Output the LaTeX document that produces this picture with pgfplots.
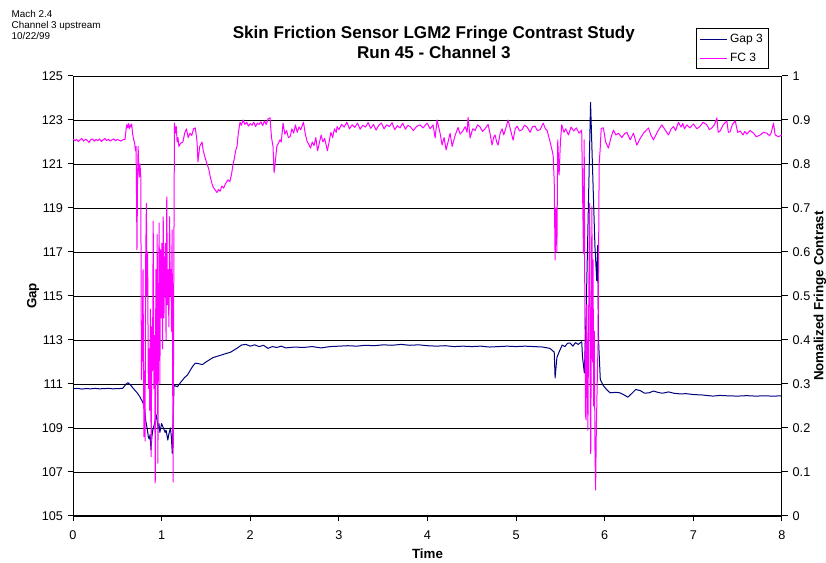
\documentclass[border=0pt]{standalone}
\usepackage{fontspec}
\setmainfont{Liberation Sans}
\usepackage{pgfplots}
\pgfplotsset{compat=1.18}
\usepackage{pgfplotstable}

\definecolor{gapnavy}{RGB}{0,0,128}
\definecolor{fcmagenta}{RGB}{255,0,255}

% Gap 3 (left axis)
\pgfplotstableread{
t gap
0.00 110.78
0.05 110.80
0.10 110.77
0.15 110.79
0.20 110.78
0.25 110.80
0.30 110.78
0.35 110.79
0.40 110.80
0.45 110.78
0.50 110.79
0.56 110.80
0.60 111.00
0.62 111.06
0.65 110.95
0.68 110.80
0.72 110.62
0.75 110.45
0.79 110.15
0.81 109.80
0.82 109.35
0.84 108.90
0.85 108.60
0.86 108.50
0.87 108.70
0.88 108.00
0.89 108.60
0.90 108.90
0.92 109.20
0.94 109.60
0.95 109.30
0.96 109.00
0.97 109.20
0.98 108.80
1.00 109.20
1.02 109.00
1.04 108.80
1.05 108.90
1.07 108.45
1.08 108.70
1.10 109.00
1.11 108.60
1.12 107.85
1.14 110.95
1.16 110.90
1.18 110.88
1.20 111.00
1.23 111.15
1.26 111.30
1.29 111.40
1.32 111.60
1.35 111.80
1.38 111.95
1.42 111.92
1.46 111.88
1.50 112.00
1.54 112.10
1.58 112.20
1.62 112.25
1.66 112.30
1.70 112.35
1.74 112.40
1.78 112.45
1.82 112.55
1.86 112.65
1.90 112.77
1.95 112.80
2.00 112.72
2.05 112.78
2.10 112.70
2.15 112.76
2.20 112.62
2.25 112.70
2.30 112.66
2.35 112.72
2.40 112.64
2.50 112.68
2.60 112.66
2.70 112.70
2.80 112.64
2.90 112.70
3.00 112.72
3.10 112.74
3.20 112.72
3.30 112.76
3.40 112.74
3.50 112.78
3.60 112.76
3.70 112.80
3.80 112.76
3.90 112.78
4.00 112.74
4.10 112.72
4.20 112.74
4.30 112.70
4.40 112.72
4.50 112.70
4.60 112.72
4.70 112.68
4.80 112.70
4.90 112.72
5.00 112.70
5.10 112.72
5.20 112.70
5.30 112.68
5.38 112.62
5.43 112.45
5.44 111.27
5.46 112.20
5.49 112.50
5.52 112.77
5.55 112.70
5.58 112.85
5.61 112.86
5.64 112.72
5.67 112.88
5.70 112.80
5.74 112.92
5.75 112.20
5.77 111.50
5.79 114.20
5.84 123.80
5.87 119.80
5.89 117.20
5.91 115.70
5.92 117.30
5.93 113.00
5.95 111.20
5.98 110.95
6.02 110.75
6.06 110.60
6.12 110.62
6.17 110.60
6.22 110.50
6.26 110.40
6.30 110.55
6.35 110.75
6.40 110.70
6.45 110.58
6.50 110.60
6.55 110.68
6.60 110.62
6.65 110.58
6.72 110.64
6.78 110.58
6.85 110.55
6.92 110.56
7.00 110.52
7.10 110.50
7.22 110.45
7.30 110.48
7.40 110.46
7.50 110.45
7.60 110.47
7.70 110.45
7.80 110.46
7.90 110.45
8.00 110.46
}\gapdata

% FC 3 (right axis)
\pgfplotstableread{
t fc
0.00 0.857
0.02 0.853
0.04 0.856
0.06 0.851
0.08 0.855
0.10 0.858
0.12 0.852
0.14 0.856
0.16 0.854
0.18 0.849
0.20 0.855
0.22 0.857
0.24 0.852
0.26 0.856
0.28 0.853
0.30 0.857
0.32 0.851
0.34 0.855
0.36 0.858
0.38 0.853
0.40 0.856
0.42 0.852
0.44 0.855
0.46 0.857
0.48 0.853
0.50 0.856
0.52 0.854
0.54 0.852
0.56 0.855
0.587 0.856
0.600 0.880
0.606 0.889
0.615 0.882
0.625 0.892
0.635 0.880
0.645 0.889
0.655 0.884
0.662 0.891
0.672 0.870
0.685 0.855
0.695 0.848
0.705 0.830
0.712 0.840
0.722 0.605
0.728 0.760
0.735 0.840
0.742 0.790
0.750 0.770
0.756 0.800
0.765 0.770
0.772 0.310
0.780 0.360
0.790 0.560
0.800 0.180
0.808 0.330
0.813 0.170
0.820 0.580
0.828 0.710
0.835 0.500
0.842 0.600
0.850 0.290
0.858 0.380
0.866 0.240
0.874 0.470
0.882 0.135
0.890 0.430
0.897 0.330
0.905 0.670
0.912 0.290
0.920 0.410
0.928 0.075
0.935 0.560
0.942 0.300
0.950 0.640
0.958 0.120
0.965 0.450
0.972 0.666
0.980 0.300
0.988 0.605
0.995 0.450
1.003 0.620
1.010 0.380
1.018 0.680
1.026 0.450
1.034 0.560
1.042 0.620
1.050 0.400
1.058 0.725
1.066 0.480
1.074 0.560
1.082 0.430
1.090 0.680
1.098 0.500
1.105 0.560
1.112 0.420
1.118 0.650
1.124 0.340
1.130 0.077
1.137 0.540
1.145 0.893
1.155 0.870
1.165 0.885
1.175 0.850
1.185 0.860
1.195 0.840
1.208 0.845
1.22 0.848
1.24 0.850
1.26 0.870
1.28 0.880
1.30 0.860
1.32 0.870
1.34 0.865
1.36 0.880
1.38 0.882
1.40 0.850
1.41 0.805
1.43 0.840
1.456 0.850
1.47 0.830
1.49 0.815
1.512 0.800
1.53 0.790
1.55 0.770
1.569 0.755
1.58 0.748
1.60 0.742
1.625 0.735
1.64 0.742
1.66 0.738
1.68 0.750
1.70 0.745
1.72 0.755
1.749 0.764
1.77 0.760
1.79 0.778
1.806 0.800
1.82 0.812
1.835 0.830
1.851 0.840
1.865 0.870
1.885 0.895
1.90 0.888
1.92 0.900
1.94 0.890
1.96 0.895
1.98 0.886
2.00 0.892
2.02 0.888
2.04 0.895
2.06 0.885
2.08 0.893
2.10 0.890
2.12 0.896
2.14 0.887
2.16 0.898
2.18 0.890
2.20 0.902
2.223 0.905
2.24 0.860
2.257 0.840
2.269 0.780
2.28 0.800
2.30 0.840
2.336 0.855
2.35 0.850
2.37 0.893
2.39 0.868
2.41 0.876
2.43 0.860
2.45 0.862
2.47 0.880
2.49 0.870
2.51 0.889
2.53 0.872
2.55 0.884
2.57 0.878
2.60 0.895
2.62 0.870
2.64 0.852
2.66 0.845
2.68 0.836
2.70 0.850
2.72 0.842
2.74 0.860
2.76 0.830
2.78 0.848
2.80 0.866
2.82 0.850
2.84 0.858
2.86 0.840
2.87 0.830
2.89 0.850
2.91 0.872
2.93 0.860
2.95 0.880
2.97 0.872
2.98 0.885
3.00 0.878
3.03 0.890
3.06 0.884
3.09 0.895
3.12 0.880
3.15 0.889
3.18 0.883
3.21 0.893
3.24 0.879
3.27 0.888
3.30 0.884
3.33 0.894
3.36 0.881
3.39 0.890
3.42 0.877
3.45 0.888
3.48 0.893
3.51 0.880
3.54 0.889
3.57 0.885
3.60 0.894
3.63 0.878
3.66 0.887
3.69 0.882
3.72 0.893
3.75 0.879
3.78 0.888
3.81 0.884
3.84 0.876
3.88 0.886
3.916 0.889
3.95 0.882
3.995 0.893
4.03 0.880
4.063 0.889
4.086 0.859
4.108 0.900
4.142 0.870
4.165 0.843
4.187 0.860
4.210 0.832
4.232 0.850
4.255 0.870
4.278 0.840
4.312 0.865
4.345 0.883
4.368 0.868
4.402 0.876
4.425 0.885
4.447 0.872
4.458 0.906
4.481 0.859
4.510 0.880
4.537 0.876
4.565 0.889
4.594 0.884
4.620 0.874
4.650 0.880
4.684 0.890
4.705 0.870
4.729 0.843
4.746 0.860
4.763 0.866
4.780 0.850
4.797 0.843
4.820 0.870
4.842 0.880
4.860 0.866
4.876 0.876
4.910 0.900
4.940 0.875
4.966 0.854
4.990 0.880
5.011 0.886
5.040 0.875
5.068 0.878
5.095 0.888
5.124 0.884
5.158 0.872
5.185 0.885
5.214 0.886
5.240 0.876
5.271 0.878
5.305 0.893
5.330 0.880
5.350 0.876
5.384 0.850
5.418 0.820
5.430 0.760
5.440 0.582
5.450 0.700
5.460 0.600
5.470 0.855
5.485 0.775
5.500 0.850
5.515 0.889
5.540 0.872
5.560 0.880
5.590 0.866
5.620 0.884
5.650 0.875
5.680 0.882
5.710 0.870
5.740 0.877
5.760 0.597
5.768 0.855
5.775 0.500
5.783 0.230
5.790 0.218
5.797 0.480
5.805 0.300
5.810 0.195
5.818 0.440
5.825 0.620
5.830 0.711
5.837 0.260
5.842 0.142
5.848 0.400
5.855 0.703
5.862 0.350
5.868 0.582
5.875 0.250
5.882 0.420
5.890 0.150
5.897 0.059
5.905 0.195
5.915 0.300
5.925 0.400
5.937 0.800
5.948 0.832
5.960 0.881
5.985 0.882
6.010 0.850
6.042 0.836
6.070 0.860
6.098 0.877
6.125 0.866
6.155 0.870
6.193 0.860
6.220 0.868
6.249 0.872
6.287 0.855
6.324 0.870
6.362 0.843
6.400 0.858
6.437 0.870
6.494 0.882
6.520 0.866
6.550 0.855
6.600 0.875
6.644 0.889
6.680 0.878
6.719 0.866
6.750 0.880
6.776 0.885
6.800 0.876
6.832 0.895
6.860 0.884
6.880 0.892
6.900 0.880
6.927 0.889
6.960 0.882
7.001 0.891
7.040 0.880
7.077 0.886
7.110 0.895
7.152 0.889
7.180 0.878
7.209 0.882
7.240 0.890
7.265 0.905
7.280 0.872
7.302 0.875
7.340 0.890
7.378 0.898
7.395 0.872
7.415 0.873
7.440 0.890
7.472 0.898
7.500 0.872
7.528 0.875
7.560 0.866
7.580 0.874
7.604 0.868
7.640 0.876
7.679 0.870
7.710 0.862
7.754 0.866
7.790 0.872
7.829 0.870
7.860 0.864
7.880 0.872
7.904 0.893
7.923 0.866
7.960 0.862
7.999 0.866
}\fcdata

\begin{document}
\begin{tikzpicture}
\useasboundingbox (0,0) rectangle (619.5pt,422.25pt);

% run notes in the top left corner
\node[anchor=north west, align=left, inner sep=0pt,
      font=\fontsize{7.4}{8.5}\selectfont] at (8.6pt,415pt)
  {Mach 2.4\\Channel 3 upstream\\10/22/99};

% left axis: gap
\begin{axis}[
  at={(54.75pt,35.25pt)}, anchor=south west,
  scale only axis, width=531.75pt, height=330pt,
  xmin=0, xmax=8, ymin=105, ymax=125,
  xtick={0,1,2,3,4,5,6,7,8},
  ytick={105,107,109,111,113,115,117,119,121,123,125},
  axis x line*=bottom, axis y line*=left,
  axis line style={black, line width=0.75pt},
  ymajorgrids, grid style={black, line width=0.6pt},
  tick style={black, line width=0.75pt},
  tick align=outside,
  major tick length=4pt,
  ticklabel style={font=\fontsize{9.5}{11}\selectfont},
  xticklabel style={yshift=-3.5pt},
  /pgf/number format/assume math mode=true,
  xlabel={Time}, ylabel={Gap},
  label style={font=\fontsize{10}{12}\selectfont\bfseries},
  xlabel style={at={(rel axis cs:0.5,-0.086)}, anchor=center},
  ylabel style={at={(rel axis cs:-0.0564,0.5)}, anchor=center},
  title={Skin Friction Sensor LGM2 Fringe Contrast Study\\Run 45 - Channel 3},
  title style={at={(rel axis cs:0.509,1.058)}, anchor=center, align=center,
               font=\fontsize{12.8}{15}\selectfont\bfseries},
]
\addplot[gapnavy, line width=0.75pt, line join=round] table[x=t, y=gap] {\gapdata};
\end{axis}

% right axis: normalized fringe contrast
\begin{axis}[
  at={(54.75pt,35.25pt)}, anchor=south west,
  scale only axis, width=531.75pt, height=330pt,
  xmin=0, xmax=8, ymin=0, ymax=1,
  axis x line=none, axis y line*=right,
  axis line style={black, line width=0.75pt},
  ytick={0,0.1,0.2,0.3,0.4,0.5,0.6,0.7,0.8,0.9,1},
  yticklabel style={/pgf/number format/fixed, /pgf/number format/precision=1},
  tick style={black, line width=0.75pt},
  tick align=outside,
  major tick length=4.5pt,
  ticklabel style={font=\fontsize{9.5}{11}\selectfont},
  /pgf/number format/assume math mode=true,
  ylabel={Nomalized Fringe Contrast},
  ylabel style={at={(rel axis cs:1.0536,0.5)}, anchor=center,
                font=\fontsize{10}{12}\selectfont\bfseries},
  legend style={at={(0.982,1.109)}, anchor=north east, draw=black,
                line width=0.75pt, fill=white,
                font=\fontsize{9}{10}\selectfont,
                inner xsep=2.5pt, inner ysep=2pt, row sep=2.5pt},
  legend cell align=left,
  legend image code/.code={\draw[#1] (0pt,0pt) -- (20pt,0pt);},
]
\addlegendimage{gapnavy, line width=0.75pt}
\addlegendentry{Gap 3}
\addplot[fcmagenta, line width=0.75pt, line join=round] table[x=t, y=fc] {\fcdata};
\addlegendentry{FC 3}
\end{axis}
\end{tikzpicture}
\end{document}
